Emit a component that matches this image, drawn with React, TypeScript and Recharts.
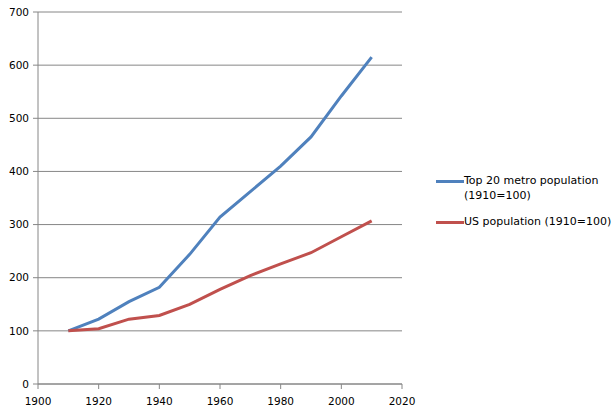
import { LineChart, Line, XAxis, YAxis, CartesianGrid } from 'recharts'

// Index values, 1910 = 100
const years = [1910, 1920, 1930, 1940, 1950, 1960, 1970, 1980, 1990, 2000, 2010]
const metroPop = [100, 122, 155, 182, 244, 314, 362, 410, 465, 542, 615]
const usPop = [100, 104, 122, 129, 150, 178, 204, 226, 247, 277, 307]

const xTicks = [1900, 1920, 1940, 1960, 1980, 2000, 2020]
const yTicks = [0, 100, 200, 300, 400, 500, 600, 700]

const BLUE = '#4F81BD'
const RED = '#C0504D'
const GREY = '#868686'
const FONT = '"DejaVu Sans", Verdana, sans-serif'

const data = years.map((y, i) => ({ year: y, metro: metroPop[i], us: usPop[i] }))

const legendItems = [
  { color: BLUE, lines: ['Top 20 metro population', '(1910=100)'] },
  { color: RED, lines: ['US population (1910=100)'] },
]

// Excel-style legend sitting to the right of the plot
function ChartLegend() {
  return (
    <div style={{ position: 'absolute', left: 436, top: 173, fontFamily: FONT, fontSize: 11, color: '#000' }}>
      {legendItems.map((it, i) => (
        <div key={i} style={{ display: 'flex', alignItems: 'flex-start', marginBottom: i === 0 ? 11 : 0 }}>
          <span style={{ width: 28, height: 3, background: it.color, marginTop: 7, flexShrink: 0 }} />
          <div style={{ lineHeight: '15px' }}>
            {it.lines.map((l, j) => <div key={j} style={{ whiteSpace: 'nowrap' }}>{l}</div>)}
          </div>
        </div>
      ))}
    </div>
  )
}

export default function App() {
  return (
    <div style={{ position: 'absolute', left: 0, top: 0, width: 613, height: 411, background: '#fff' }}>
      <LineChart width={613} height={411} data={data} margin={{ top: 12, right: 211, bottom: 0, left: 0 }}>
        <CartesianGrid vertical={false} stroke={GREY} strokeWidth={1} />
        <XAxis
          dataKey="year"
          type="number"
          domain={[1900, 2020]}
          ticks={xTicks}
          height={27}
          stroke={GREY}
          tickSize={5}
          tickMargin={9}
          tick={{ fill: '#000', fontSize: 10.5, fontFamily: FONT }}
          interval={0}
        />
        <YAxis
          type="number"
          domain={[0, 700]}
          ticks={yTicks}
          width={38}
          stroke={GREY}
          tickSize={5}
          tickMargin={4}
          tick={{ fill: '#000', fontSize: 10.5, fontFamily: FONT }}
          interval={0}
        />
        <Line type="linear" dataKey="metro" stroke={BLUE} strokeWidth={3} dot={false} isAnimationActive={false} />
        <Line type="linear" dataKey="us" stroke={RED} strokeWidth={3} dot={false} isAnimationActive={false} />
      </LineChart>
      <ChartLegend />
    </div>
  )
}
